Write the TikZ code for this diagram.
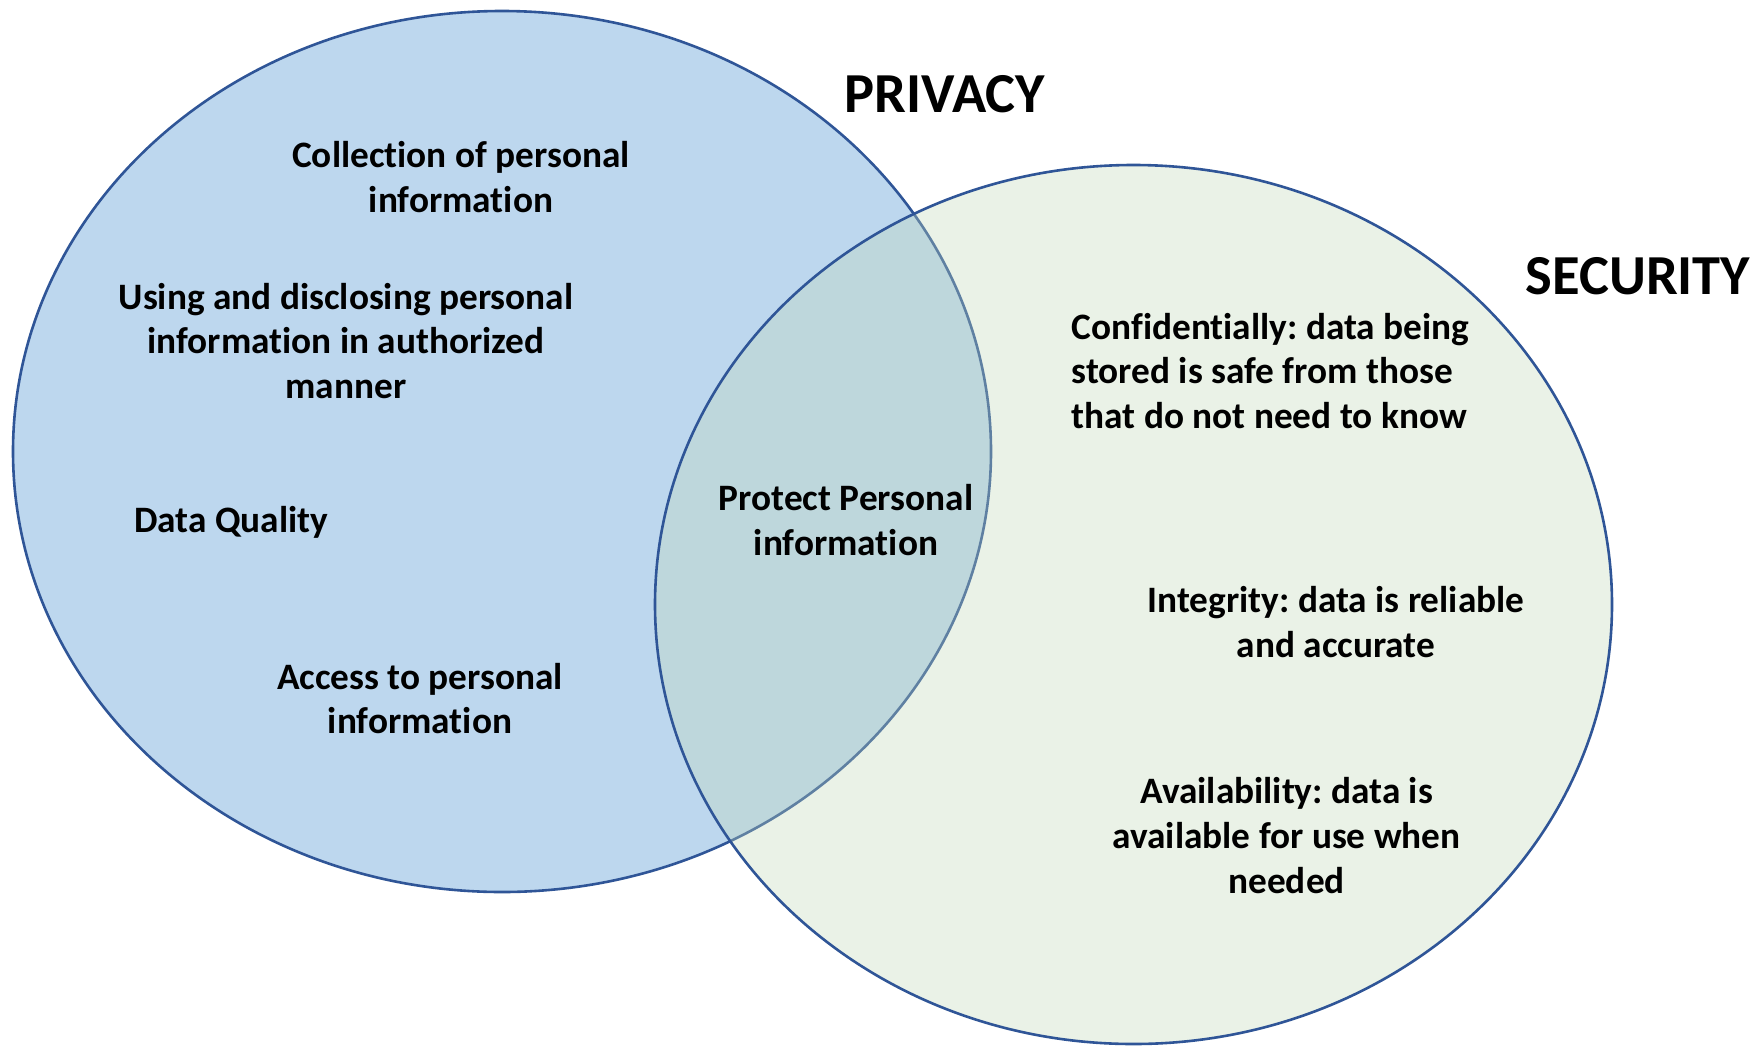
\documentclass[tikz,border=0pt]{standalone}
\usepackage{fontspec}
\setmainfont{Carlito}[Ligatures={NoCommon}]
\frenchspacing
\definecolor{ringblue}{HTML}{2F5597}
\definecolor{privfill}{HTML}{BDD7EE}
\definecolor{secfill}{HTML}{C2DAB9}
\begin{document}
\begin{tikzpicture}[x=1pt,y=-1pt,
  lbl/.style={font=\bfseries\fontsize{37.3}{44.7}\selectfont, align=center, inner sep=0pt},
  ttl/.style={font=\bfseries\fontsize{56.5}{68}\selectfont, inner sep=0pt},
  border/.style={draw=ringblue, line width=2.6pt}]
\useasboundingbox (0,0) rectangle (1764,1047);
\fill[white] (0,0) rectangle (1764,1047);
% PRIVACY set
\filldraw[fill=privfill, border] (502,451.5) ellipse [x radius=489pt, y radius=440.5pt];
% SECURITY set (semi-transparent fill over privacy)
\fill[secfill, fill opacity=0.33] (1133.5,604.5) ellipse [x radius=478.5pt, y radius=439.5pt];
\draw[border] (1133.5,604.5) ellipse [x radius=478.5pt, y radius=439.5pt];
% titles
\node[ttl] (privacy) at (945,94) {PRIVACY};
\node[ttl] (security) at (1638,276) {SECURITY};
% privacy items
\node[lbl] (collect) at (461,177) {Collection of personal\\information};
\node[lbl] (using) at (346,341) {Using and disclosing personal\\information in authorized\\manner};
\node[lbl] (quality) at (231,522) {Data Quality};
\node[lbl] (access) at (420,698.5) {Access to personal\\information};
% overlap
\node[lbl] (protect) at (846,520) {Protect Personal\\information};
% security items
\node[lbl, align=left, anchor=west] (conf) at (1071.5,371) {Confidentially: data being\\stored is safe from those\\that do not need to know};
\node[lbl] (integ) at (1336,622) {Integrity: data is reliable\\and accurate};
\node[lbl] (avail) at (1286.6,835.7) {Availability: data is\\available for use when\\needed};
\end{tikzpicture}
\end{document}
